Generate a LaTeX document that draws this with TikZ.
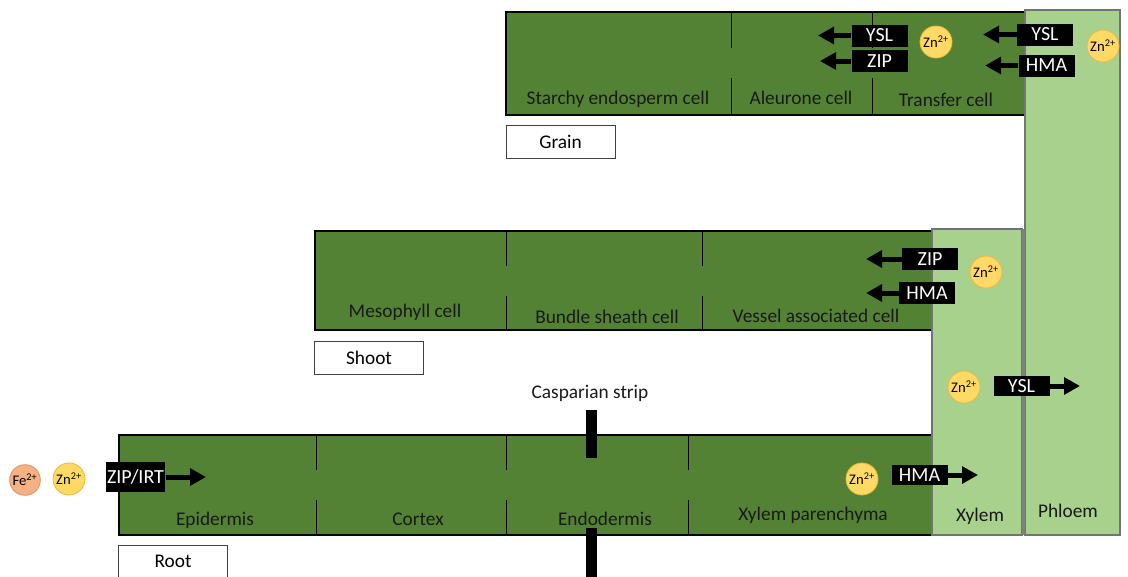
\documentclass[tikz,border=0pt]{standalone}
\usepackage{fontspec}
\setmainfont{Carlito}
\usetikzlibrary{arrows.meta}
\definecolor{tissuegreen}{HTML}{548235}
\definecolor{vesselgreen}{HTML}{A9D18E}
\definecolor{znfill}{HTML}{FFD966}
\definecolor{znline}{HTML}{EDB83A}
\definecolor{fefill}{HTML}{F4B183}
\definecolor{feline}{HTML}{E0905E}

\tikzset{
    block/.style={fill=tissuegreen, draw=black, line width=1.3pt},
    vessel/.style={fill=vesselgreen, draw=black!55, line width=0.8pt},
    wall/.style={draw=black, line width=0.6pt},
    cellname/.style={font=\fontsize{14.5}{16}\selectfont, text=black!90, inner sep=0pt},
    organ/.style={draw=black!75, fill=white, line width=0.6pt, minimum width=81.75pt,
        minimum height=24.75pt, inner sep=0pt, font=\fontsize{14.5}{16}\selectfont},
    transporter/.style={fill=black, text=white, inner sep=1pt, minimum width=42pt,
        minimum height=16.5pt, font=\fontsize{15}{16}\selectfont},
    zn/.style={circle, draw=znline, fill=znfill, line width=0.6pt, minimum size=24pt,
        inner sep=0pt, font=\fontsize{11}{12}\selectfont},
    fe/.style={zn, draw=feline, fill=fefill, minimum size=23pt},
    flow/.style={line width=3.75pt, -{Triangle[length=12pt,width=12.5pt]}},
    strip/.style={fill=black}
}

\begin{document}
\begin{tikzpicture}[x=0.75pt,y=-0.75pt]
    \useasboundingbox (0,0) rectangle (1128,576);

    % grain
    \draw[block] (506,12) rectangle (1025,115);
    \foreach \x in {731,872}{
        \draw[wall] (\x,12) -- (\x,48);
        \draw[wall] (\x,78) -- (\x,115);
    }
    \node[cellname] (starchy)  at (618,99)  {Starchy endosperm cell};
    \node[cellname] (aleurone) at (801,98)  {Aleurone cell};
    \node[cellname] (transfer) at (946,100) {Transfer cell};
    \node[organ] (grain) at (560.5,141.5) {Grain};

    % shoot
    \draw[block] (315,231) rectangle (932,330);
    \foreach \x in {506,702}{
        \draw[wall] (\x,231) -- (\x,266);
        \draw[wall] (\x,296) -- (\x,330);
    }
    \node[cellname] (mesophyll) at (405,312) {Mesophyll cell};
    \node[cellname] (sheath)    at (607,317) {Bundle sheath cell};
    \node[cellname] (vac)       at (816,316) {Vessel associated cell};
    \node[organ] (shoot) at (369,358) {Shoot};

    % root
    \draw[block] (119,435) rectangle (932,535);
    \foreach \x in {316,506,688}{
        \draw[wall] (\x,435) -- (\x,470);
        \draw[wall] (\x,500) -- (\x,535);
    }
    \node[cellname] (epidermis)  at (215,520) {Epidermis};
    \node[cellname] (cortex)     at (418,519) {Cortex};
    \node[cellname] (endodermis) at (605,519) {Endodermis};
    \node[cellname] (parenchyma) at (813,515) {Xylem parenchyma};
    \node[organ] (root) at (173,561.5) {Root};

    % casparian strip
    \node[cellname] (casparian) at (590,393) {Casparian strip};
    \fill[strip] (586,410) rectangle (597,458);
    \fill[strip] (586,528) rectangle (597,580);

    % vessels
    \draw[vessel] (932,229) rectangle (1022,535);
    \draw[vessel] (1025,10) rectangle (1120,535);
    \draw[draw=black!50, line width=2pt] (1023.5,229) -- (1023.5,535);
    \node[cellname] (xylem)  at (980,516) {Xylem};
    \node[cellname] (phloem) at (1068,511) {Phloem};

    % transporters, grain
    \node[transporter] (yslAl) at (879.5,35.5) {YSL};
    \node[transporter] (zipAl) at (879.5,61) {ZIP};
    \node[zn] (znTr) at (936,42) {Zn\textsuperscript{2+}};
    \node[transporter] (yslTr) at (1045,34.5) {YSL};
    \node[transporter] (hmaTr) at (1046.5,65.5) {HMA};
    \node[zn] (znPh) at (1103,46) {Zn\textsuperscript{2+}};
    \coordinate (yslAlTip) at (818,35.5);
    \coordinate (zipAlTip) at (820,61);
    \coordinate (yslTrTip) at (983,34.5);
    \coordinate (hmaTrTip) at (985,65.5);
    \draw[flow] (yslAl.west) -- (yslAlTip);
    \draw[flow] (zipAl.west) -- (zipAlTip);
    \draw[flow] (yslTr.west) -- (yslTrTip);
    \draw[flow] (hmaTr.west) -- (hmaTrTip);

    % transporters, shoot
    \node[transporter] (zipSh) at (930,259) {ZIP};
    \node[transporter] (hmaSh) at (927,293) {HMA};
    \node[zn] (znSh) at (986,272) {Zn\textsuperscript{2+}};
    \coordinate (zipShTip) at (866,259);
    \coordinate (hmaShTip) at (866,293);
    \draw[flow] (zipSh.west) -- (zipShTip);
    \draw[flow] (hmaSh.west) -- (hmaShTip);

    % xylem to phloem
    \node[zn] (znXy) at (964,387) {Zn\textsuperscript{2+}};
    \node[transporter, minimum height=15pt] (yslXy) at (1021.5,386) {YSL};
    \coordinate (yslXyTip) at (1080,386);
    \draw[flow] (yslXy.east) -- (yslXyTip);

    % transporters, root
    \node[fe] (feSoil) at (25,480) {Fe\textsuperscript{2+}};
    \node[zn] (znSoil) at (69,479) {Zn\textsuperscript{2+}};
    \node[transporter, minimum height=22.5pt] (zipEp) at (135.5,477) {ZIP/IRT};
    \coordinate (zipEpTip) at (206,477);
    \draw[flow] (zipEp.east) -- (zipEpTip);
    \node[zn] (znPa) at (862,479) {Zn\textsuperscript{2+}};
    \node[transporter, minimum height=15pt] (hmaPa) at (919.5,475) {HMA};
    \coordinate (hmaPaTip) at (978,475);
    \draw[flow] (hmaPa.east) -- (hmaPaTip);
\end{tikzpicture}
\end{document}
